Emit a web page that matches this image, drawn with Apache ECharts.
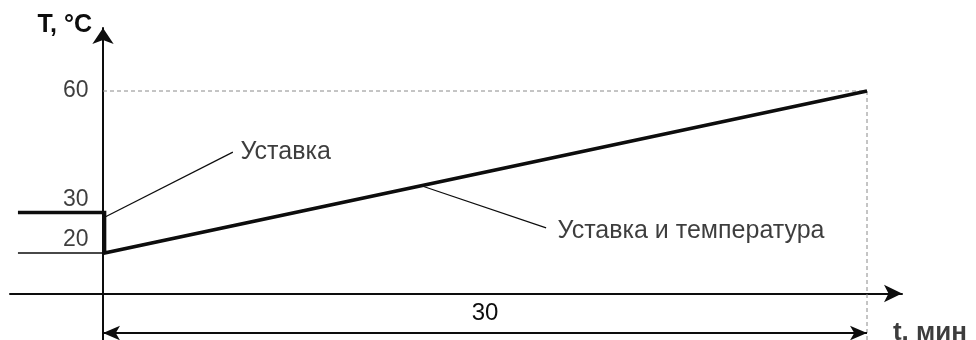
<!DOCTYPE html>
<html><head><meta charset="utf-8">
<script src="https://cdn.jsdelivr.net/npm/echarts@6/dist/echarts.min.js"></script>
<style>html,body{margin:0;padding:0;background:#fff}#c{width:976px;height:340px}</style>
</head><body><div id="c"></div>
<script>
// ---- data ----
const yTicks = [20, 30, 60];
const setpointLine = [[-3.34, 30], [0.06, 30], [0.06, 20], [30, 60]];
const temperatureLine = [[-3.34, 20], [0, 20], [30, 60]];
const guide60 = [[0, 60], [30, 60]];
const guide30min = [[30, 60], [30, -1.5]];
const calloutSetpoint = [[0.08, 28.9], [5.1, 44.9]];
const calloutBoth = [[12.5, 36.6], [17.4, 26.2]];
const calloutAnchors = [[5.14, 44.94], [17.59, 25.43]];
const calloutTexts = ['Уставка', 'Уставка и температура'];
const spanMinutes = [0, 30];
const spanLevel = 0.25;
const spanLabel = '30';
const axisNames = ['T, °C', 't. мин'];
const xNameAnchor = [30.8, 0.25];

const FONT = '"Liberation Sans", Arial, sans-serif';
const INK = '#0d0d0d';

const chart = echarts.init(document.getElementById('c'), null, {renderer: 'canvas'});
chart.setOption({
  animation: false,
  backgroundColor: '#fff',
  grid: {left: 10, right: 74, top: 28, bottom: 0, containLabel: false, outerBoundsMode: 'none'},
  xAxis: {
    type: 'value', min: -3.652, max: 31.374, position: 'bottom', offset: -46.5,
    axisLine: {show: true, onZero: false, symbol: ['none', 'arrow'], symbolSize: [13, 18],
      lineStyle: {color: INK, width: 2}},
    axisTick: {show: false}, axisLabel: {show: false}, splitLine: {show: false}
  },
  yAxis: {
    type: 'value', min: -1.481, max: 75.556,
    axisLine: {show: true, onZero: true, symbol: ['none', 'arrow'], symbolSize: [16, 16],
      lineStyle: {color: INK, width: 2}},
    axisTick: {show: false}, splitLine: {show: false}, axisLabel: {show: false},
    name: axisNames[0], nameLocation: 'end', nameGap: 3,
    nameTextStyle: {fontFamily: FONT, fontWeight: 'bold', fontSize: 25, color: INK,
      align: 'right', verticalAlign: 'middle', padding: [0, 11, 0, 0]}
  },
  series: [
    {type: 'line', data: guide60, symbol: 'none', silent: true, z: 1,
      lineStyle: {color: '#8a8a8a', width: 1, type: [4, 3]}},
    {type: 'line', data: guide30min, symbol: 'none', silent: true, z: 1,
      lineStyle: {color: '#8a8a8a', width: 1, type: [4, 3]},
      markLine: {
        silent: true, symbol: ['arrow', 'arrow'], symbolSize: [11, 17],
        lineStyle: {color: INK, width: 2, type: 'solid'},
        label: {show: true, position: 'middle', formatter: spanLabel, distance: 8,
          fontFamily: FONT, fontSize: 24, color: INK},
        data: [[{coord: [spanMinutes[0], spanLevel]}, {coord: [spanMinutes[1], spanLevel]}]]
      }},
    {type: 'line', data: temperatureLine, symbol: 'none', silent: true, z: 2,
      lineStyle: {color: INK, width: 1.6}},
    {type: 'line', data: setpointLine, symbol: 'none', silent: true, z: 3,
      lineStyle: {color: INK, width: 3.6, join: 'miter'}},
    {type: 'line', data: calloutSetpoint, symbol: 'none', silent: true, z: 2,
      lineStyle: {color: INK, width: 1.2}},
    {type: 'line', data: calloutBoth, symbol: 'none', silent: true, z: 2,
      lineStyle: {color: INK, width: 1.2}},
    // callout texts
    {type: 'scatter', symbolSize: 1, silent: true, itemStyle: {color: 'rgba(0,0,0,0)'},
      data: calloutAnchors.map((p, i) => ({value: p, name: calloutTexts[i]})),
      label: {show: true, position: 'right', distance: 6, formatter: '{b}',
        fontFamily: FONT, fontSize: 25, color: INK}},
    // y tick labels (on the axis at t = 0)
    {type: 'scatter', symbolSize: 1, silent: true, itemStyle: {color: 'rgba(0,0,0,0)'},
      data: yTicks.map(v => ({value: [0, v], name: String(v),
        label: {offset: v === 60 ? [0, 0] : [0, -13]}})),
      label: {show: true, position: 'left', distance: 14, formatter: '{b}',
        fontFamily: FONT, fontSize: 23, color: INK}},
    // x axis name
    {type: 'scatter', symbolSize: 1, silent: true, itemStyle: {color: 'rgba(0,0,0,0)'},
      data: [{value: xNameAnchor, name: axisNames[1]}],
      label: {show: true, position: 'right', distance: 5, formatter: '{b}',
        fontFamily: FONT, fontWeight: 'bold', fontSize: 26, color: INK}}
  ]
});
</script></body></html>
